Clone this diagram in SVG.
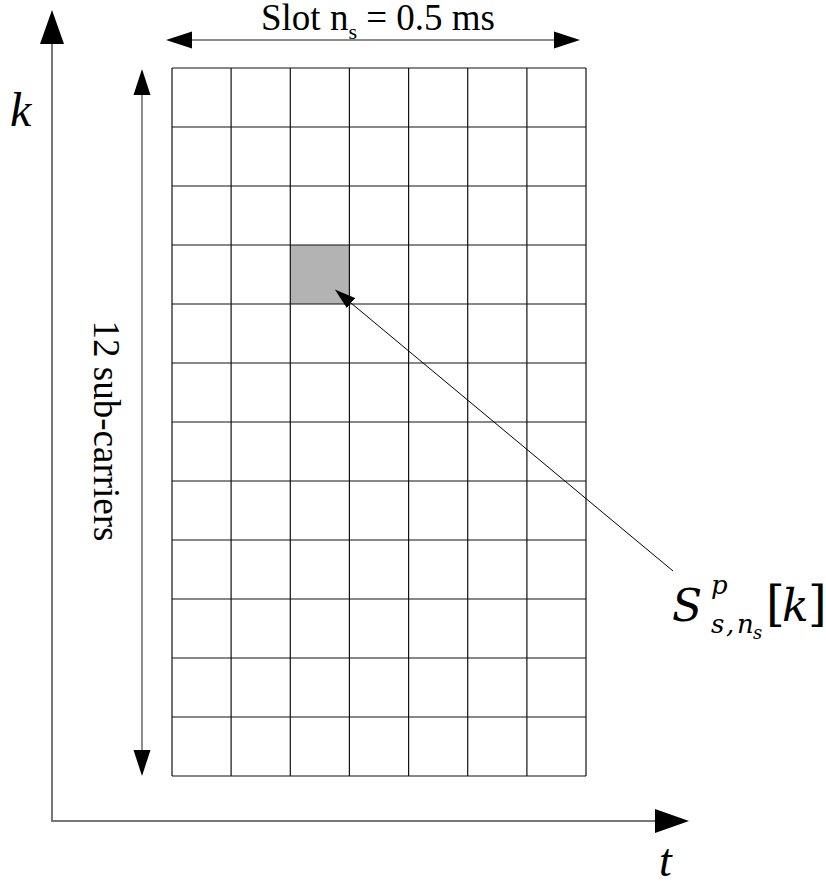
<svg xmlns="http://www.w3.org/2000/svg" width="826" height="885" viewBox="0 0 826 885">
<style>
.grid line{stroke:#111;stroke-width:1.2}
.axis{stroke:#777;stroke-width:2;fill:none}
.dim{stroke:#666;stroke-width:1.5;fill:none}
.ptr{stroke:#000;stroke-width:1;fill:none}
.tms{font-family:"Liberation Serif","Times New Roman",serif;fill:#000}
.math{font-family:"DejaVu Serif",serif;font-style:italic;fill:#000}
.up{font-style:normal}
</style>
<defs>
<marker id="big" markerUnits="userSpaceOnUse" markerWidth="36" markerHeight="26" refX="0" refY="12" orient="auto-start-reverse" viewBox="0 0 36 24"><path d="M0,0 L34,12 L0,24 Z" fill="#000"/></marker>
<marker id="mid" markerUnits="userSpaceOnUse" markerWidth="28" markerHeight="18" refX="0" refY="8.5" orient="auto-start-reverse" viewBox="0 0 28 17"><path d="M0,0 L26,8.5 L0,17 Z" fill="#000"/></marker>
<marker id="sm" markerUnits="userSpaceOnUse" markerWidth="22" markerHeight="14" refX="0" refY="6.5" orient="auto" viewBox="0 0 22 13"><path d="M0,0 L21,6.5 L0,13 Z" fill="#000"/></marker>
</defs>
<rect width="826" height="885" fill="#fff"/>
<g id="highlight-cell"><rect x="290.4" y="245" width="59.2" height="59" fill="#b3b3b3"/></g>
<g id="grid" class="grid">
<line x1="172" y1="68" x2="172" y2="776"/>
<line x1="231.1" y1="68" x2="231.1" y2="776"/>
<line x1="290.3" y1="68" x2="290.3" y2="776"/>
<line x1="349.4" y1="68" x2="349.4" y2="776"/>
<line x1="408.6" y1="68" x2="408.6" y2="776"/>
<line x1="467.7" y1="68" x2="467.7" y2="776"/>
<line x1="526.9" y1="68" x2="526.9" y2="776"/>
<line x1="586" y1="68" x2="586" y2="776"/>
<line x1="172" y1="68" x2="586" y2="68"/>
<line x1="172" y1="127" x2="586" y2="127"/>
<line x1="172" y1="186" x2="586" y2="186"/>
<line x1="172" y1="245" x2="586" y2="245"/>
<line x1="172" y1="304" x2="586" y2="304"/>
<line x1="172" y1="363" x2="586" y2="363"/>
<line x1="172" y1="422" x2="586" y2="422"/>
<line x1="172" y1="481" x2="586" y2="481"/>
<line x1="172" y1="540" x2="586" y2="540"/>
<line x1="172" y1="599" x2="586" y2="599"/>
<line x1="172" y1="658" x2="586" y2="658"/>
<line x1="172" y1="717" x2="586" y2="717"/>
<line x1="172" y1="776" x2="586" y2="776"/>
</g>
<g id="connectors">
<path class="axis" d="M52,44 L52,821 L655,821" marker-start="url(#big)" marker-end="url(#big)"/>
<line class="dim" x1="192" y1="40" x2="554" y2="40" marker-start="url(#mid)" marker-end="url(#mid)"/>
<line class="dim" x1="142" y1="95" x2="142" y2="750" marker-start="url(#mid)" marker-end="url(#mid)"/>
<line class="ptr" x1="673" y1="571" x2="351" y2="303" marker-end="url(#sm)"/>
</g>
<g id="label-k"><text class="tms" x="10" y="126" font-size="48" font-style="italic">k</text></g>
<g id="label-t"><text class="tms" x="659" y="876" font-size="46" font-style="italic">t</text></g>
<g id="label-slot"><text class="tms" x="261" y="30" font-size="37">Slot n<tspan font-size="22" dy="9">s</tspan><tspan dy="-9"> = 0.5 ms</tspan></text></g>
<g id="label-subcarriers"><text class="tms" font-size="37" text-anchor="middle" transform="translate(94,431) rotate(90)">12 sub-carriers</text></g>
<g id="label-symbol">
<text class="math" x="672" y="621" font-size="44">S<tspan x="711" y="594" font-size="26">p</tspan><tspan x="711" y="633" font-size="26">s</tspan><tspan x="726" y="633" font-size="26">,</tspan><tspan x="737" y="633" font-size="26">n</tspan><tspan x="753" y="639" font-size="18">s</tspan><tspan class="up" x="766" y="621" font-size="48">[</tspan><tspan x="782" y="621" font-size="44">k</tspan><tspan class="up" x="808" y="621" font-size="48">]</tspan></text>
</g>
</svg>
